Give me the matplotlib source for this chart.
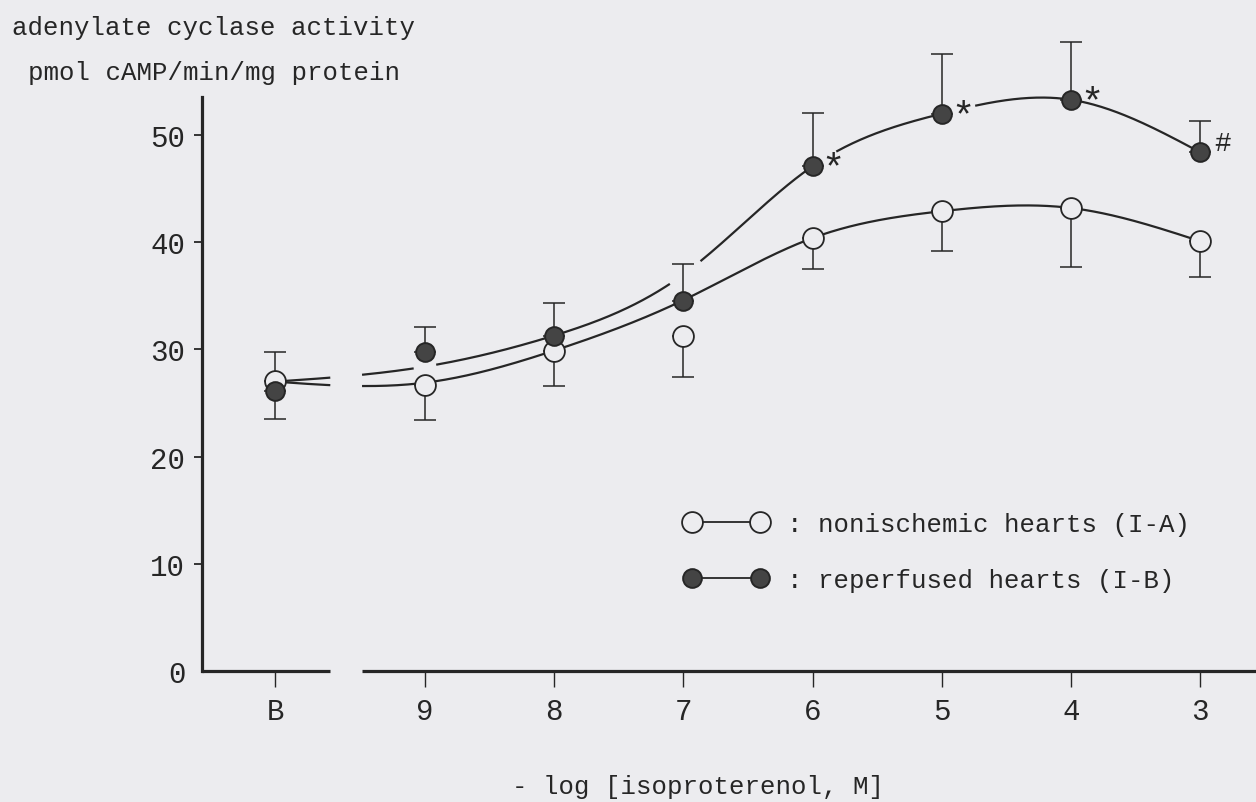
import numpy as np
import matplotlib.pyplot as plt
from matplotlib.lines import Line2D

plt.rcParams['font.family'] = ['Liberation Mono', 'DejaVu Sans Mono']

# -log [isoproterenol, M]; "B" = basal
conc_labels = ['B', '9', '8', '7', '6', '5', '4', '3']

# nonischemic hearts (I-A)
nonisch_mean = [27.1, 26.7, 29.9, 31.3, 40.4, 42.9, 43.2, 40.1]
nonisch_err = [2.7, 3.3, 3.3, 3.9, 2.9, 3.7, 5.5, 3.3]
# reperfused hearts (I-B)
reperf_mean = [26.1, 29.8, 31.3, 34.5, 47.1, 52.0, 53.3, 48.4]
reperf_err = [2.6, 2.3, 3.0, 3.5, 5.0, 5.6, 5.4, 2.9]
reperf_marks = ['', '', '', '', '*', '*', '*', '#']

fit_nonisch = [27.0, 26.9, 29.9, 34.6, 40.4, 42.9, 43.2, 40.1]
fit_reperf = [27.0, 28.4, 31.3, 37.0, 47.1, 52.0, 53.3, 48.4]

bg = '#ececef'
ink = '#262626'

# x positions: B sits a bit further left, behind the axis break
xpos = np.arange(len(conc_labels), dtype=float) - 1
xpos[0] -= 0.16
xmin, xmax = -1.726, 6.432
brk = (-0.735, -0.488)


def natural_spline(xk, yk, xs):
    xk = np.asarray(xk, float)
    yk = np.asarray(yk, float)
    n = len(xk)
    h = np.diff(xk)
    A = np.zeros((n, n))
    r = np.zeros(n)
    A[0, 0] = A[-1, -1] = 1
    for i in range(1, n - 1):
        A[i, i - 1] = h[i - 1]
        A[i, i] = 2 * (h[i - 1] + h[i])
        A[i, i + 1] = h[i]
        r[i] = 6 * ((yk[i + 1] - yk[i]) / h[i] - (yk[i] - yk[i - 1]) / h[i - 1])
    M = np.linalg.solve(A, r)
    idx = np.clip(np.searchsorted(xk, xs) - 1, 0, n - 2)
    x0, x1 = xk[idx], xk[idx + 1]
    hh = x1 - x0
    a = (x1 - xs) / hh
    b = (xs - x0) / hh
    return a * yk[idx] + b * yk[idx + 1] + ((a**3 - a) * M[idx] + (b**3 - b) * M[idx + 1]) * hh**2 / 6


def with_gaps(xs, ys, gaps):
    ys = ys.copy()
    for g0, g1 in gaps:
        ys[(xs > g0) & (xs < g1)] = np.nan
    return ys


fig = plt.figure(figsize=(12.56, 8.03), dpi=100, facecolor=bg)
ax = fig.add_axes([202 / 1256, 131 / 803, 1054 / 1256, 642 / 803])
ax.set_facecolor('none')
ax.set_xlim(xmin, xmax)
ax.set_ylim(0, 59.9)

# curves
xs = np.linspace(xpos[0], xpos[-1], 600)
y_non = with_gaps(xs, natural_spline(xpos, fit_nonisch, xs), [brk])
y_rep = with_gaps(xs, natural_spline(xpos, fit_reperf, xs),
                  [brk, (-0.09, 0.09), (1.896, 2.128), (3.0, 3.19), (4.0, 4.26)])
ax.plot(xs, y_non, color=ink, lw=1.6, zorder=2)
ax.plot(xs, y_rep, color=ink, lw=1.6, zorder=2)

# one-sided error bars
n_err = np.array(nonisch_err)
r_err = np.array(reperf_err)
n_lo, n_hi = n_err.copy(), np.zeros_like(n_err)
n_lo[0], n_hi[0] = 0, n_err[0]
r_lo, r_hi = np.zeros_like(r_err), r_err.copy()
r_lo[0], r_hi[0] = r_err[0], 0
ax.errorbar(xpos, nonisch_mean, yerr=[n_lo, n_hi], fmt='none', ecolor=ink,
            elinewidth=1.1, capsize=8, capthick=1.1, zorder=3)
ax.errorbar(xpos, reperf_mean, yerr=[r_lo, r_hi], fmt='none', ecolor=ink,
            elinewidth=1.1, capsize=8, capthick=1.1, zorder=3)

open_style = dict(marker='o', ms=15, mfc=bg, mec=ink, mew=1.3)
fill_style = dict(marker='o', ms=13.5, mfc='#444444', mec='#262626', mew=1.4)
ax.plot(xpos, nonisch_mean, ls='none', zorder=4, **open_style)
ax.plot(xpos, reperf_mean, ls='none', zorder=5, **fill_style)

# significance marks
for x, y, m in zip(xpos, reperf_mean, reperf_marks):
    if m == '*':
        ax.annotate(m, (x, y), xytext=(15, -9), textcoords='offset points',
                    ha='center', va='baseline', fontsize=28, color=ink)
    elif m:
        ax.annotate(m, (x, y), xytext=(16, 7), textcoords='offset points',
                    ha='center', va='center', fontsize=20, color=ink)

# axes
for s in ['top', 'right', 'bottom']:
    ax.spines[s].set_visible(False)
ax.spines['left'].set_bounds(0, 53.6)
ax.spines['left'].set_linewidth(2.3)
ax.spines['left'].set_color(ink)
ax.plot([xmin, brk[0]], [0, 0], color=ink, lw=2.3, clip_on=False, solid_capstyle='butt')
ax.plot([brk[1], xmax], [0, 0], color=ink, lw=2.3, clip_on=False, solid_capstyle='butt')

ax.set_xticks(xpos)
ax.set_xticklabels(conc_labels)
ax.tick_params(axis='x', direction='out', length=11.5, width=1.0, pad=7,
               labelsize=21, colors=ink)
ax.set_yticks([0, 10, 20, 30, 40, 50])
ax.tick_params(axis='y', direction='out', length=6, width=1.3, pad=6,
               labelsize=21, colors=ink)
ax.yaxis.get_major_ticks()[0].tick1line.set_visible(False)

ax.set_xlabel('- log [isoproterenol, M]', fontsize=18.5, color=ink)
ax.xaxis.set_label_coords(0.4706, -0.179)
ax.xaxis.label.set_va('center')

fig.text(12 / 1256, 1 - 28 / 803, 'adenylate cyclase activity', fontsize=18.5,
         color=ink, ha='left', va='center')
fig.text(28 / 1256, 1 - 73 / 803, 'pmol cAMP/min/mg protein', fontsize=18.5,
         color=ink, ha='left', va='center')

# legend
h_open = Line2D([], [], color=ink, lw=1.3, **open_style)
h_fill = Line2D([], [], color=ink, lw=1.3, **fill_style)
leg = ax.legend([h_open, h_fill],
                [': nonischemic hearts (I-A)', ': reperfused hearts (I-B)'],
                loc='center left', bbox_to_anchor=(684 / 1256, 1 - 553 / 803),
                bbox_transform=fig.transFigure, frameon=False, numpoints=2,
                handlelength=3.25, handletextpad=0.75, labelspacing=1.25,
                borderpad=0, borderaxespad=0, fontsize=18.5)
for t in leg.get_texts():
    t.set_color(ink)

fig.savefig('out.png', dpi=100, facecolor=bg)
